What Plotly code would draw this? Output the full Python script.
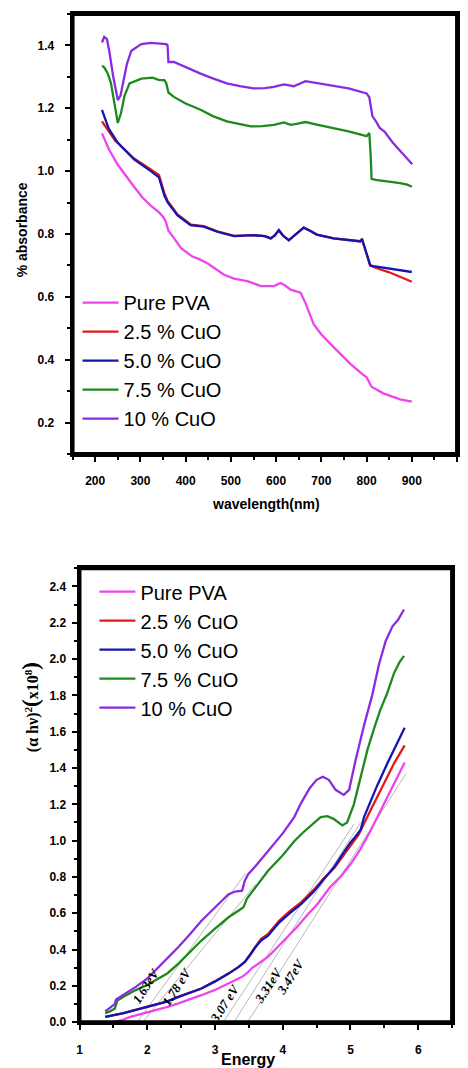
import plotly.graph_objects as go

# ---------------- Top chart: absorbance vs wavelength ----------------
series_names = ["Pure PVA", "2.5 % CuO", "5.0 % CuO", "7.5 % CuO", "10 % CuO"]
series_colors = ["#ee44ee", "#e31a1c", "#1515b0", "#1e8a1e", "#8a2be2"]

wl_pva = [215, 230, 250, 270, 286, 305, 323, 340, 350, 356, 362, 375, 390, 415, 430, 448, 465, 485,
          507, 536, 550, 566, 595, 610, 620, 632, 654, 665, 683, 700, 727, 764, 790, 800, 811, 837, 874, 900]
abs_pva = [1.12, 1.07, 1.02, 0.98, 0.95, 0.915, 0.89, 0.87, 0.855, 0.84, 0.81, 0.785, 0.755, 0.728, 0.72,
           0.707, 0.69, 0.67, 0.658, 0.65, 0.643, 0.634, 0.634, 0.644, 0.636, 0.623, 0.613, 0.58, 0.513,
           0.48, 0.44, 0.387, 0.355, 0.344, 0.314, 0.293, 0.274, 0.267]

wl_cu25 = [215, 230, 245, 250, 286, 323, 341, 353, 360, 382, 411, 440, 470, 507, 550, 575, 588, 597, 606,
           615, 628, 640, 661, 675, 690, 727, 760, 786, 790, 795, 808, 815, 850, 900]
abs_cu25 = [1.158, 1.125, 1.095, 1.09, 1.04, 1.005, 0.988, 0.93, 0.905, 0.862, 0.83, 0.825, 0.808, 0.794,
            0.796, 0.793, 0.786, 0.795, 0.812, 0.795, 0.78, 0.795, 0.82, 0.81, 0.798, 0.786, 0.781, 0.776,
            0.782, 0.758, 0.70, 0.695, 0.678, 0.648]

wl_cu50 = [215, 230, 250, 286, 323, 341, 353, 360, 382, 411, 440, 470, 507, 550, 575, 588, 597, 606, 615,
           628, 640, 661, 675, 690, 727, 760, 786, 790, 795, 808, 815, 850, 900]
abs_cu50 = [1.195, 1.135, 1.09, 1.037, 1.0, 0.98, 0.922, 0.901, 0.859, 0.828, 0.823, 0.807, 0.793, 0.796,
            0.793, 0.786, 0.795, 0.812, 0.795, 0.78, 0.795, 0.82, 0.81, 0.798, 0.786, 0.781, 0.777, 0.784,
            0.76, 0.70, 0.698, 0.69, 0.679]

wl_cu75 = [215, 220, 228, 235, 242, 250, 257, 265, 276, 290, 302, 315, 327, 340, 353, 357, 362, 374, 400,
           433, 460, 491, 520, 544, 570, 595, 617, 632, 645, 665, 690, 727, 760, 800, 806, 809, 811, 820,
           837, 855, 874, 890, 900]
abs_cu75 = [1.335, 1.33, 1.31, 1.279, 1.22, 1.153, 1.184, 1.24, 1.279, 1.287, 1.294, 1.296, 1.297, 1.29,
            1.289, 1.28, 1.25, 1.236, 1.215, 1.195, 1.175, 1.158, 1.148, 1.142, 1.143, 1.147, 1.155, 1.147,
            1.15, 1.156, 1.148, 1.137, 1.126, 1.111, 1.121, 1.05, 0.975, 0.972, 0.969, 0.965, 0.962,
            0.957, 0.95]

wl_cu10 = [215, 220, 226, 231, 240, 250, 256, 261, 270, 280, 302, 323, 340, 357, 360, 362, 374, 400, 433,
           460, 491, 520, 550, 575, 595, 617, 639, 665, 690, 727, 760, 800, 806, 810, 813, 820, 829, 840,
           858, 880, 901]
abs_cu10 = [1.409, 1.427, 1.42, 1.383, 1.30, 1.226, 1.24, 1.28, 1.34, 1.383, 1.404, 1.408, 1.405, 1.404,
            1.40, 1.347, 1.347, 1.33, 1.31, 1.295, 1.279, 1.27, 1.263, 1.264, 1.268, 1.276, 1.27, 1.286,
            1.28, 1.273, 1.263, 1.247, 1.235, 1.20, 1.174, 1.16, 1.137, 1.125, 1.09, 1.055, 1.022]

# ---------------- Bottom chart: (alpha h nu)^2 vs energy ----------------
en_pva = [1.38, 1.45, 1.55, 1.65, 1.75, 1.83, 1.95, 2.12, 2.3, 2.46, 2.63, 2.8, 3.0, 3.2, 3.4, 3.47, 3.55,
          3.65, 3.78, 3.9, 4.02, 4.2, 4.35, 4.51, 4.7, 4.85, 5.0, 5.15, 5.29, 5.45, 5.6, 5.72, 5.8]
ah_pva = [0.0, 0.0, 0.005, 0.015, 0.03, 0.038, 0.05, 0.065, 0.085, 0.104, 0.125, 0.149, 0.178, 0.213,
          0.25, 0.27, 0.3, 0.325, 0.36, 0.405, 0.45, 0.52, 0.585, 0.65, 0.745, 0.8, 0.87, 0.955, 1.05,
          1.17, 1.28, 1.37, 1.43]

en_cu25 = [1.38, 1.45, 1.55, 1.65, 1.83, 1.95, 2.12, 2.3, 2.46, 2.63, 2.8, 3.0, 3.2, 3.35, 3.44, 3.52,
           3.59, 3.68, 3.78, 3.95, 4.1, 4.27, 4.46, 4.6, 4.76, 4.9, 5.0, 5.12, 5.3, 5.5, 5.65, 5.8]
ah_cu25 = [0.03, 0.035, 0.04, 0.05, 0.068, 0.08, 0.095, 0.115, 0.14, 0.162, 0.186, 0.225, 0.268, 0.305,
           0.332, 0.375, 0.415, 0.46, 0.485, 0.56, 0.61, 0.66, 0.73, 0.79, 0.85, 0.92, 0.97, 1.033, 1.17,
           1.32, 1.43, 1.525]

en_cu50 = [1.38, 1.45, 1.55, 1.65, 1.83, 1.95, 2.12, 2.3, 2.46, 2.63, 2.8, 3.0, 3.2, 3.35, 3.44, 3.52,
           3.59, 3.68, 3.78, 3.95, 4.1, 4.27, 4.46, 4.6, 4.76, 4.9, 5.0, 5.07, 5.15, 5.2, 5.39, 5.55, 5.7, 5.8]
ah_cu50 = [0.03, 0.035, 0.04, 0.05, 0.068, 0.08, 0.095, 0.115, 0.14, 0.162, 0.186, 0.225, 0.268, 0.305,
           0.332, 0.37, 0.41, 0.45, 0.475, 0.55, 0.6, 0.65, 0.72, 0.785, 0.855, 0.935, 0.99, 1.02, 1.06,
           1.13, 1.3, 1.43, 1.54, 1.622]

en_cu75 = [1.38, 1.45, 1.52, 1.56, 1.65, 1.83, 2.0, 2.12, 2.3, 2.46, 2.63, 2.8, 3.0, 3.2, 3.35, 3.42, 3.47,
           3.55, 3.78, 4.0, 4.17, 4.3, 4.46, 4.56, 4.66, 4.75, 4.88, 4.95, 5.05, 5.15, 5.25, 5.35, 5.44,
           5.54, 5.64, 5.72, 5.79]
ah_cu75 = [0.05, 0.06, 0.075, 0.12, 0.14, 0.177, 0.205, 0.231, 0.27, 0.323, 0.385, 0.45, 0.515, 0.578,
           0.615, 0.633, 0.68, 0.72, 0.833, 0.92, 0.997, 1.045, 1.1, 1.13, 1.135, 1.12, 1.084, 1.1, 1.2,
           1.35, 1.5, 1.62, 1.72, 1.81, 1.92, 1.98, 2.017]

en_cu10 = [1.38, 1.45, 1.52, 1.54, 1.65, 1.83, 2.0, 2.12, 2.3, 2.46, 2.63, 2.8, 3.0, 3.2, 3.3, 3.4, 3.44,
           3.49, 3.6, 3.78, 4.0, 4.17, 4.27, 4.4, 4.5, 4.59, 4.68, 4.78, 4.9, 4.98, 5.07, 5.2, 5.32, 5.42,
           5.52, 5.62, 5.7, 5.79]
ah_cu10 = [0.06, 0.08, 0.1, 0.125, 0.15, 0.195, 0.24, 0.286, 0.35, 0.414, 0.485, 0.559, 0.632, 0.705,
           0.72, 0.725, 0.78, 0.815, 0.86, 0.942, 1.04, 1.13, 1.207, 1.29, 1.335, 1.352, 1.335, 1.28, 1.252,
           1.28, 1.434, 1.635, 1.80, 1.97, 2.1, 2.18, 2.215, 2.273]

# Tauc-plot tangent lines (x-intercept -> end point) and band-gap labels
tangent_start_x = [1.85, 1.93, 3.12, 3.28, 3.48]
tangent_end_x = [3.45, 3.60, 5.05, 5.15, 5.82]
tangent_end_y = [0.82, 0.76, 1.09, 1.10, 1.37]
gap_labels = ["1.63eV", "1.78 eV", "3.07 eV", "3.31eV", "3.47eV"]
gap_label_x = [1.98, 2.44, 3.14, 3.79, 4.12]
gap_label_y = [0.205, 0.195, 0.105, 0.2, 0.25]

# axis ranges
top_xrange = [150, 1000]
top_yrange = [0.1, 1.5]
bot_xrange = [1, 6.5]
bot_yrange = [0, 2.5]

top_x = [wl_pva, wl_cu25, wl_cu50, wl_cu75, wl_cu10]
top_y = [abs_pva, abs_cu25, abs_cu50, abs_cu75, abs_cu10]
bot_x = [en_pva, en_cu25, en_cu50, en_cu75, en_cu10]
bot_y = [ah_pva, ah_cu25, ah_cu50, ah_cu75, ah_cu10]

W, H = 468, 1068
fig = go.Figure()

for i, name in enumerate(series_names):
    fig.add_trace(go.Scatter(x=top_x[i], y=top_y[i], mode="lines", name=name,
                             line=dict(color=series_colors[i], width=2.3),
                             xaxis="x", yaxis="y", legend="legend"))

for j in range(len(tangent_start_x)):
    fig.add_trace(go.Scatter(x=[tangent_start_x[j], tangent_end_x[j]], y=[0, tangent_end_y[j]],
                             mode="lines", line=dict(color="#9a9a9a", width=0.7),
                             showlegend=False, hoverinfo="skip", xaxis="x2", yaxis="y2"))

for i, name in enumerate(series_names):
    fig.add_trace(go.Scatter(x=bot_x[i], y=bot_y[i], mode="lines", name=name,
                             line=dict(color=series_colors[i], width=2.3),
                             xaxis="x2", yaxis="y2", legend="legend2"))

# axis box outline following each subplot's axis ranges
for xr, yr, xa, ya in ((top_xrange, top_yrange, "x", "y"), (bot_xrange, bot_yrange, "x2", "y2")):
    fig.add_trace(go.Scatter(x=[xr[0], xr[1], xr[1], xr[0], xr[0]], y=[yr[0], yr[0], yr[1], yr[1], yr[0]],
                             mode="lines", line=dict(color="black", width=4), showlegend=False,
                             hoverinfo="skip", xaxis=xa, yaxis=ya))

SANS = "Liberation Sans, Arial"
tickfont = dict(family=SANS, size=12, color="black", weight="bold")
axis_common = dict(showgrid=False, zeroline=False, showline=True, linecolor="black", linewidth=3,
                   mirror=True, ticks="outside", ticklen=5, tickwidth=1.5, tickcolor="black",
                   tickfont=tickfont)

# plot-area pixel boxes (left, right, top, bottom)
TOP_BOX = (70, 457, 14, 457)
BOT_BOX = (77, 452, 572, 1029)

def px_x(box):
    return [box[0] / W, box[1] / W]

def px_y(box):
    return [1 - box[3] / H, 1 - box[2] / H]

fig.update_layout(
    width=W, height=H, margin=dict(l=0, r=0, t=0, b=0),
    paper_bgcolor="white", plot_bgcolor="rgba(0,0,0,0)", showlegend=True,
    xaxis=dict(domain=px_x(TOP_BOX), anchor="y", range=top_xrange, tick0=0, dtick=100,
               ticklabelstandoff=9,
               minor=dict(ticks="outside", ticklen=3, dtick=50, tick0=0, tickcolor="black", tickwidth=1.5),
               **axis_common),
    yaxis=dict(domain=px_y(TOP_BOX), anchor="x", range=top_yrange, tick0=0, dtick=0.2, tickformat=".1f",
               ticklabelstandoff=8,
               minor=dict(ticks="outside", ticklen=3, dtick=0.1, tick0=0, tickcolor="black", tickwidth=1.5),
               **axis_common),
    xaxis2=dict(domain=px_x(BOT_BOX), anchor="y2", range=bot_xrange, dtick=1, ticklabelstandoff=9,
                minor=dict(ticks="outside", ticklen=3, dtick=0.5, tickcolor="black", tickwidth=1.5),
                **axis_common),
    yaxis2=dict(domain=px_y(BOT_BOX), anchor="x2", range=bot_yrange, tick0=0, dtick=0.2, tickformat=".1f",
                ticklabelstandoff=3,
                minor=dict(ticks="outside", ticklen=3, dtick=0.1, tick0=0, tickcolor="black", tickwidth=1.5),
                **axis_common),
    legend=dict(x=75 / W, y=1 - 285 / H, xanchor="left", yanchor="top", bgcolor="rgba(0,0,0,0)",
                font=dict(family=SANS, size=20, color="black"), itemwidth=36, tracegroupgap=0),
    legend2=dict(x=92 / W, y=1 - 576 / H, xanchor="left", yanchor="top", bgcolor="rgba(0,0,0,0)",
                 font=dict(family=SANS, size=20, color="black"), itemwidth=36, tracegroupgap=0),
)

shapes = []
for box in (TOP_BOX, BOT_BOX):
    shapes.append(dict(type="rect", xref="paper", yref="paper",
                       x0=box[0] / W, x1=box[1] / W, y0=1 - box[3] / H, y1=1 - box[2] / H,
                       line=dict(color="black", width=2.5), fillcolor="rgba(0,0,0,0)", layer="above"))
fig.update_layout(shapes=shapes)

ann = []
ann.append(dict(text="% absorbance", xref="paper", yref="paper", x=20 / W, y=1 - 231 / H,
                xanchor="center", yanchor="middle", showarrow=False, textangle=-90,
                font=dict(family=SANS, size=14, color="black", weight="bold")))
ann.append(dict(text="wavelength(nm)", xref="paper", yref="paper", x=265 / W, y=1 - 507 / H,
                xanchor="center", yanchor="middle", showarrow=False,
                font=dict(family=SANS, size=14, color="black", weight="bold")))
ann.append(dict(text="(α hν)<sup>2</sup><span style='font-size:23px'>(</span>x10<sup>8</sup><span style='font-size:23px'>)</span>",
                xref="paper", yref="paper", x=28 / W, y=1 - 712 / H, xanchor="center", yanchor="middle",
                showarrow=False, textangle=-90,
                font=dict(family="Liberation Serif, Times New Roman", size=16, color="black", weight="bold")))
ann.append(dict(text="Energy", xref="paper", yref="paper", x=247 / W, y=1 - 1066 / H,
                xanchor="center", yanchor="middle", showarrow=False,
                font=dict(family=SANS, size=16, color="black", weight="bold")))
for k, lab in enumerate(gap_labels):
    ann.append(dict(text=lab, xref="x2", yref="y2", x=gap_label_x[k], y=gap_label_y[k], showarrow=False,
                    textangle=-57,
                    font=dict(family="Liberation Serif, Times New Roman", size=13, color="black",
                              weight="bold", style="italic")))
fig.update_layout(annotations=ann)

fig.write_html("out.html")
